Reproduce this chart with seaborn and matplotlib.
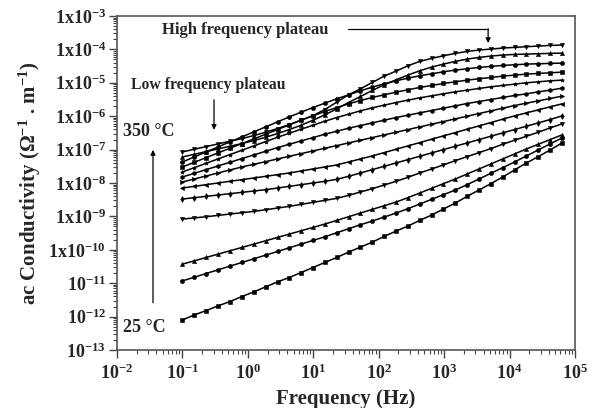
import numpy as np
import pandas as pd
import matplotlib
matplotlib.use("Agg")
import matplotlib.pyplot as plt
import matplotlib.ticker as mticker
import seaborn as sns

# ---------------- data ----------------
freq_hz = [0.1, 0.152, 0.23, 0.35, 0.53, 0.81, 1.23, 1.87, 2.84, 4.3, 6.5, 9.9,
           15.0, 22.8, 34.6, 52.5, 79.7, 121, 184, 279, 423, 642, 975, 1480,
           2245, 3410, 5175, 7855, 11920, 18100, 27470, 41700, 63300]

curve_ids = ["c01", "c02", "c03", "c04", "c05", "c06", "c07",
             "c08", "c09", "c10", "c11", "c12", "c13"]

# log10 of ac conductivity (S/m), lowest temperature first
log_c01 = [-12.10, -11.95, -11.82, -11.68, -11.55, -11.40, -11.26, -11.11, -10.96, -10.83, -10.68,
           -10.53, -10.38, -10.23, -10.07, -9.92, -9.77, -9.60, -9.44, -9.29, -9.12, -8.96,
           -8.78, -8.60, -8.40, -8.21, -8.02, -7.82, -7.61, -7.40, -7.21, -7.01, -6.80]
log_c02 = [-10.93, -10.82, -10.71, -10.60, -10.49, -10.38, -10.27, -10.16, -10.05, -9.94, -9.83,
           -9.72, -9.61, -9.49, -9.37, -9.25, -9.14, -9.02, -8.90, -8.77, -8.63, -8.49,
           -8.35, -8.21, -8.05, -7.88, -7.71, -7.54, -7.37, -7.19, -7.01, -6.83, -6.65]
log_c03 = [-10.43, -10.33, -10.23, -10.13, -10.03, -9.93, -9.83, -9.73, -9.63, -9.53, -9.43,
           -9.33, -9.23, -9.12, -9.01, -8.90, -8.79, -8.68, -8.57, -8.44, -8.30, -8.16,
           -8.02, -7.88, -7.73, -7.58, -7.43, -7.28, -7.13, -6.98, -6.84, -6.70, -6.56]
log_c04 = [-9.08, -9.045, -9.01, -8.97, -8.93, -8.89, -8.85, -8.80, -8.75, -8.70, -8.64,
           -8.58, -8.52, -8.46, -8.37, -8.27, -8.17, -8.06, -7.95, -7.83, -7.70, -7.58,
           -7.46, -7.33, -7.21, -7.09, -6.97, -6.84, -6.72, -6.60, -6.48, -6.35, -6.23]
log_c05 = [-8.48, -8.44, -8.40, -8.36, -8.32, -8.28, -8.24, -8.20, -8.15, -8.10, -8.05,
           -8.00, -7.95, -7.89, -7.80, -7.70, -7.60, -7.50, -7.40, -7.30, -7.20, -7.10,
           -7.00, -6.90, -6.80, -6.70, -6.60, -6.50, -6.40, -6.30, -6.20, -6.10, -5.99]
log_c06 = [-8.15, -8.10, -8.05, -8.00, -7.95, -7.90, -7.85, -7.80, -7.75, -7.70, -7.64,
           -7.58, -7.52, -7.46, -7.37, -7.28, -7.19, -7.09, -6.99, -6.89, -6.79, -6.69,
           -6.59, -6.49, -6.39, -6.29, -6.19, -6.09, -5.99, -5.90, -5.81, -5.72, -5.63]
log_c07 = [-7.97, -7.88, -7.79, -7.70, -7.61, -7.52, -7.44, -7.36, -7.28, -7.20, -7.12,
           -7.04, -6.96, -6.88, -6.80, -6.72, -6.64, -6.56, -6.48, -6.40, -6.32, -6.24,
           -6.16, -6.08, -6.00, -5.92, -5.84, -5.76, -5.68, -5.61, -5.54, -5.47, -5.40]
log_c08 = [-7.82, -7.71, -7.60, -7.49, -7.38, -7.27, -7.16, -7.05, -6.94, -6.84, -6.74,
           -6.64, -6.54, -6.45, -6.36, -6.28, -6.20, -6.12, -6.04, -5.97, -5.90, -5.83,
           -5.76, -5.69, -5.62, -5.56, -5.50, -5.44, -5.38, -5.33, -5.27, -5.22, -5.16]
log_c09 = [-7.67, -7.54, -7.41, -7.28, -7.15, -7.02, -6.89, -6.76, -6.63, -6.51, -6.39,
           -6.27, -6.15, -6.04, -5.94, -5.84, -5.75, -5.67, -5.59, -5.52, -5.45, -5.39,
           -5.33, -5.27, -5.22, -5.17, -5.12, -5.08, -5.04, -5.00, -4.97, -4.94, -4.92]
log_c10 = [-7.52, -7.38, -7.24, -7.10, -6.96, -6.82, -6.68, -6.54, -6.40, -6.26, -6.12,
           -5.99, -5.86, -5.74, -5.63, -5.53, -5.44, -5.36, -5.28, -5.21, -5.14, -5.08,
           -5.02, -4.97, -4.92, -4.88, -4.84, -4.80, -4.77, -4.74, -4.72, -4.70, -4.68]
log_c11 = [-7.37, -7.22, -7.07, -6.92, -6.77, -6.62, -6.47, -6.32, -6.17, -6.02, -5.88,
           -5.74, -5.61, -5.48, -5.36, -5.24, -5.13, -5.03, -4.94, -4.86, -4.79, -4.73,
           -4.67, -4.62, -4.58, -4.54, -4.51, -4.48, -4.46, -4.44, -4.43, -4.42, -4.41]
log_c12 = [-7.22, -7.14, -7.06, -6.98, -6.90, -6.82, -6.73, -6.63, -6.52, -6.40, -6.27,
           -6.12, -5.96, -5.78, -5.59, -5.41, -5.23, -5.06, -4.91, -4.77, -4.64, -4.53,
           -4.44, -4.36, -4.29, -4.24, -4.20, -4.17, -4.15, -4.14, -4.13, -4.12, -4.11]
log_c13 = [-7.07, -6.99, -6.91, -6.83, -6.75, -6.67, -6.58, -6.48, -6.37, -6.25, -6.12,
           -5.98, -5.80, -5.58, -5.36, -5.18, -4.99, -4.80, -4.65, -4.49, -4.36, -4.27,
           -4.19, -4.12, -4.06, -4.02, -3.99, -3.96, -3.94, -3.92, -3.90, -3.88, -3.87]

log_series = [log_c01, log_c02, log_c03, log_c04, log_c05, log_c06, log_c07,
              log_c08, log_c09, log_c10, log_c11, log_c12, log_c13]

marker_list = ["s", "o", "^", "v", "d", "<", ">", "h", "*", "s", "o", "^", "v"]

y_tick_vals = [1e-13, 1e-12, 1e-11, 1e-10, 1e-9, 1e-8, 1e-7, 1e-6, 1e-5, 1e-4, 1e-3]
y_tick_labels = [r"10$^{-13}$", r"10$^{-12}$", r"10$^{-11}$", r"1x10$^{-10}$", r"1x10$^{-9}$",
                 r"1x10$^{-8}$", r"1x10$^{-7}$", r"1x10$^{-6}$", r"1x10$^{-5}$",
                 r"1x10$^{-4}$", r"1x10$^{-3}$"]
x_tick_vals = [1e-2, 1e-1, 1e0, 1e1, 1e2, 1e3, 1e4, 1e5]
x_tick_labels = [r"10$^{-2}$", r"10$^{-1}$", r"10$^{0}$", r"10$^{1}$", r"10$^{2}$",
                 r"10$^{3}$", r"10$^{4}$", r"10$^{5}$"]

# ---------------- table ----------------
rows = []
for cid, vals in zip(curve_ids, log_series):
    for f, lv in zip(freq_hz, vals):
        rows.append({"curve": cid, "freq": f, "sigma": 10.0 ** lv})
df = pd.DataFrame(rows)

# ---------------- style ----------------
sns.set_theme(style="white")
plt.rcParams["font.family"] = ["Liberation Serif", "DejaVu Serif"]
plt.rcParams["font.weight"] = "bold"
plt.rcParams["mathtext.fontset"] = "custom"
plt.rcParams["mathtext.rm"] = "Liberation Serif:bold"
plt.rcParams["mathtext.it"] = "Liberation Serif:bold"
plt.rcParams["mathtext.bf"] = "Liberation Serif:bold"
plt.rcParams["mathtext.default"] = "rm"

fig = plt.figure(figsize=(5.98, 4.08), dpi=100)
ax = fig.add_axes([117 / 598, 1 - 350 / 408, (575 - 117) / 598, (350 - 16) / 408])

sns.lineplot(data=df, x="freq", y="sigma", hue="curve", style="curve",
             palette={c: "black" for c in curve_ids},
             markers={c: m for c, m in zip(curve_ids, marker_list)},
             dashes=False, estimator=None, sort=True, legend=False,
             linewidth=1.1, markersize=3.0, markeredgewidth=0.4,
             markeredgecolor="black", ax=ax)

ax.set_xscale("log")
ax.set_yscale("log")
ax.set_xlim(1e-2, 1e5)
ax.set_ylim(1e-13, 1e-3)

ax.set_yticks(y_tick_vals)
ax.set_yticklabels(y_tick_labels)
ax.set_xticks(x_tick_vals)
ax.set_xticklabels(x_tick_labels)
ax.xaxis.set_minor_locator(mticker.LogLocator(base=10, subs=np.arange(2, 10), numticks=50))
ax.yaxis.set_minor_locator(mticker.LogLocator(base=10, subs=np.arange(2, 10), numticks=50))
ax.xaxis.set_minor_formatter(mticker.NullFormatter())
ax.yaxis.set_minor_formatter(mticker.NullFormatter())

ax.tick_params(axis="both", which="major", direction="out", length=6, width=1.0,
               color="#444444", labelsize=13, pad=2, left=True, bottom=True)
ax.tick_params(axis="both", which="minor", direction="out", length=3, width=0.8,
               color="#444444", left=True, bottom=True)
ax.tick_params(axis="x", which="major", pad=4)

for sp in ax.spines.values():
    sp.set_color("#555555")
    sp.set_linewidth(1.2)
    sp.set_visible(True)

ax.set_xlabel("Frequency (Hz)", fontsize=15, fontweight="bold", labelpad=4)
ax.set_ylabel(r"ac Conductivity (Ω$^{-1}$ . m$^{-1}$)", fontsize=15,
              fontweight="bold", labelpad=4)

# ---------------- annotations ----------------
ax.text(0.049, 3.7e-4, "High frequency plateau", fontsize=12, fontweight="bold",
        ha="left", va="center")
ax.plot([34, 4700], [4.1e-4, 4.1e-4], color="black", lw=0.9)
ax.annotate("", xy=(4700, 1.55e-4), xytext=(4700, 4.15e-4),
            arrowprops=dict(arrowstyle="-|>", color="black", lw=0.9,
                            mutation_scale=7, shrinkA=0, shrinkB=0))

ax.text(0.0164, 8.5e-6, "Low frequency plateau", fontsize=11.3, fontweight="bold",
        ha="left", va="center")
ax.annotate("", xy=(0.304, 3.9e-7), xytext=(0.304, 3.1e-6),
            arrowprops=dict(arrowstyle="-|>", color="black", lw=0.9,
                            mutation_scale=7, shrinkA=0, shrinkB=0))

ax.text(0.0125, 3.4e-7, "350 °C", fontsize=13, fontweight="bold",
        ha="left", va="center")
ax.text(0.0125, 4.6e-13, "25 °C", fontsize=13, fontweight="bold",
        ha="left", va="center")
ax.annotate("", xy=(0.0355, 9.8e-8), xytext=(0.0355, 2.6e-12),
            arrowprops=dict(arrowstyle="-|>", color="black", lw=0.9,
                            mutation_scale=7, shrinkA=0, shrinkB=0))

fig.savefig("out.png", dpi=100, facecolor="white")
